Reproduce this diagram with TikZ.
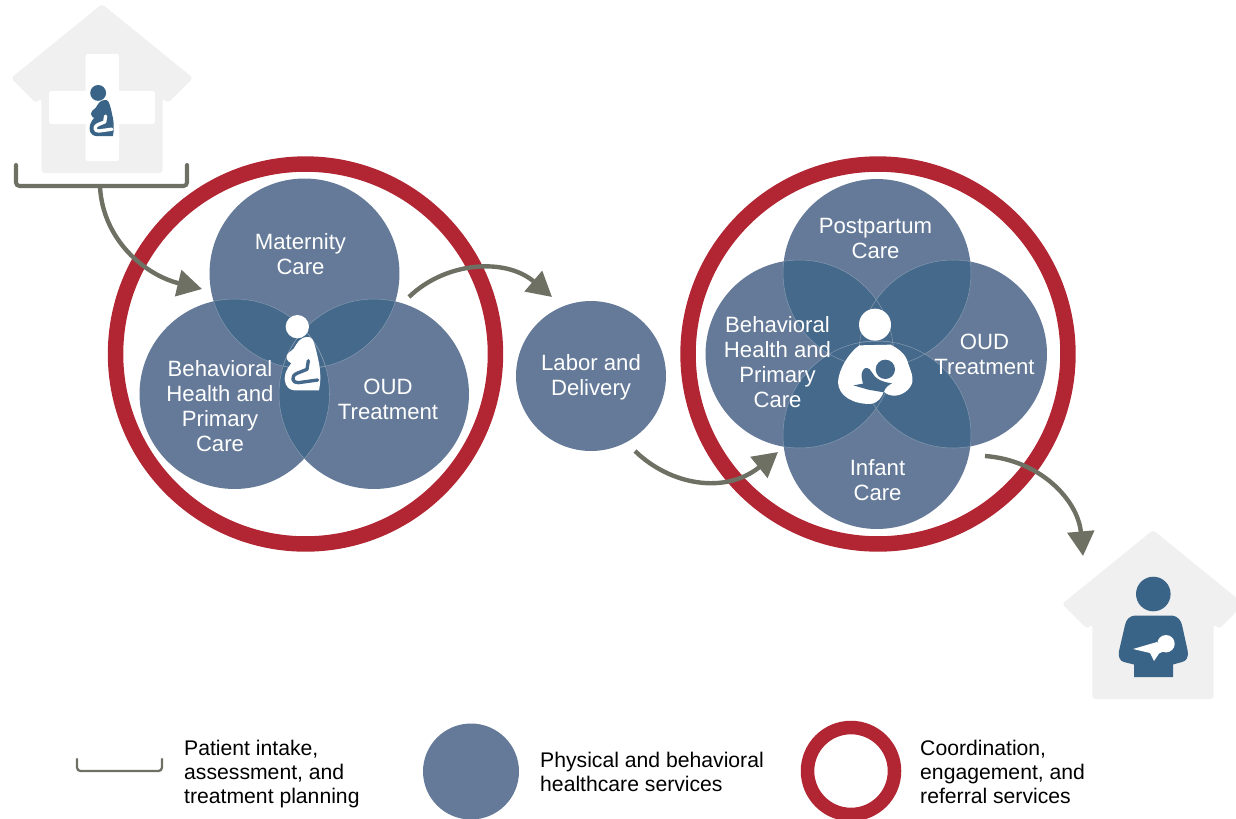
\documentclass[tikz,border=0pt]{standalone}
\usepackage{fontspec}
\setmainfont{Liberation Sans}
\usepackage{tikz}
\usetikzlibrary{arrows.meta}
\definecolor{svcblue}{HTML}{647A98}
\definecolor{lapblue}{HTML}{45698A}
\definecolor{figblue}{HTML}{3A6487}
\definecolor{lapedge}{HTML}{8398B0}
\definecolor{ringred}{HTML}{B22532}
\definecolor{flowgrey}{HTML}{6E7063}
\definecolor{housegrey}{HTML}{F0F0F0}

\tikzset{
  pics/pregnantfig/.style n args={2}{code={
    \begin{scope}[scale=1/3,shift={(-160,-270)}]
    \fill[#1] (143,80) circle[radius=35];
    \fill[#1] (172,111) .. controls (150,112) and (142,130) .. (132,146) .. controls (122,156) and (110,160) .. (111,172) .. controls (112,184) and (120,186) .. (125,190) .. controls (108,210) and (100,232) .. (108,252) .. controls (114,264) and (122,270) .. (135,271) -- (208,271) .. controls (212,250) and (214,230) .. (209,195) .. controls (204,170) and (196,130) .. (188,118) .. controls (184,112) and (178,110) .. (172,111) -- cycle;
    \draw[#2,line width=1.9pt,line join=round,line cap=round] (176,182) -- (172,208) -- (142,220) .. controls (122,228) and (128,250) .. (146,248) -- (204,240);
    \end{scope}
  }},
  pics/nursingfig/.style={code={
    \begin{scope}[scale=1/3,shift={(-165,-190)}]
    \fill[white] (165,90) circle[radius=48];
    \fill[white] (118,152) -- (212,150) .. controls (240,165) and (258,180) .. (264,205) .. controls (272,228) and (280,245) .. (277,262) .. controls (272,285) and (245,305) .. (218,303) .. controls (198,301) and (188,288) .. (192,290) .. controls (185,305) and (178,325) .. (150,328) .. controls (100,328) and (55,305) .. (54,262) .. controls (56,225) and (85,175) .. (118,152) -- cycle;
    \fill[lapblue] (196,224) circle[radius=29];
    \fill[lapblue] (100,272) -- (129,267) .. controls (126,255) and (122,240) .. (128,228) .. controls (134,215) and (148,218) .. (155,232) .. controls (165,252) and (185,262) .. (216,266) .. controls (204,272) and (196,278) .. (191,293) -- (145,285) -- cycle;
    \end{scope}
  }},
  pics/housefig/.style={code={
    \fill[housegrey,rounded corners=1.8pt] (0,-2) -- (91,72) -- (66,97) -- (60.7,92) -- (60.7,167) -- (-60.7,167) -- (-60.7,92) -- (-66,97) -- (-91,72) -- cycle;
  }}
}

\begin{document}
\begin{tikzpicture}[x=0.02cm,y=-0.02cm,
  svcnode/.style={circle,fill=svcblue,inner sep=0pt},
  svcbig/.style={svcnode,minimum size=3.8cm},
  svctext/.style={text=white,align=center,font=\fontsize{12.6}{14.2}\selectfont},
  keytext/.style={anchor=west,align=left,font=\fontsize{12.05}{13.7}\selectfont},
  ringnode/.style={circle,draw=ringred,line width=8.8pt,inner sep=0pt},
  flow/.style={draw=flowgrey,line width=2.5pt,-{Triangle[length=14pt,width=15pt]}},
  bracketline/.style={draw=flowgrey,rounded corners=2pt,line cap=round}]
\useasboundingbox (0,0) rectangle (1236,818);

% Intake house
\pic at (102,6) {housefig};
\fill[white,rounded corners=1pt] (85.5,54) rectangle (119,161);
\fill[white,rounded corners=1pt] (49,91) rectangle (155,124);
\pic at (102,136) [scale=0.68] {pregnantfig={figblue}{white}};
\draw[bracketline,line width=2.3pt] (16,165) -- (16,186) -- (187,186) -- (187,165);

% Prenatal circles
\node[ringnode,minimum size=7.6cm] (prering) at (305.5,354) {};
\node[svcbig] (prematernity) at (304.5,273.5) {};
\node[svcbig] (prebehavioral) at (234.5,394) {};
\node[svcbig] (preoud) at (374,394) {};
\foreach \a/\b in {prematernity/prebehavioral,prematernity/preoud,prebehavioral/preoud} {
  \begin{scope}
  \clip (\a) circle[radius=95];
  \fill[lapblue] (\b) circle[radius=95];
  \end{scope}
}
\foreach \a/\b in {prematernity/prebehavioral,prebehavioral/prematernity,prematernity/preoud,preoud/prematernity,prebehavioral/preoud,preoud/prebehavioral} {
  \begin{scope}
  \clip (\a) circle[radius=95];
  \draw[lapedge,line width=0.3pt] (\b) circle[radius=95];
  \end{scope}
}
\node[svctext] (prematernitytext) at (300.5,254) {Maternity\\Care};
\node[svctext] (prebehavioraltext) at (220,406.5) {Behavioral\\Health and\\Primary\\Care};
\node[svctext] (preoudtext) at (388,399) {OUD\\Treatment};
\pic at (303,390) {pregnantfig={white}{lapblue}};

% Labor and delivery
\node[svcnode,minimum size=3cm] (labor) at (591,376) {};
\node[svctext] (labortext) at (591,377) {Labor and\\Delivery};

% Postpartum circles
\node[ringnode,minimum size=7.6cm] (postring) at (878,354) {};
\node[svcbig,minimum size=3.76cm] (postcare) at (877,273) {};
\node[svcbig,minimum size=3.76cm] (postbehavioral) at (799.5,354) {};
\node[svcbig,minimum size=3.76cm] (postoud) at (953,354) {};
\node[svcbig,minimum size=3.76cm] (postinfant) at (877,435) {};
\foreach \a/\b in {postcare/postbehavioral,postcare/postoud,postinfant/postbehavioral,postinfant/postoud,postcare/postinfant,postbehavioral/postoud} {
  \begin{scope}
  \clip (\a) circle[radius=94];
  \fill[lapblue] (\b) circle[radius=94];
  \end{scope}
}
\foreach \a/\b in {postcare/postbehavioral,postbehavioral/postcare,postcare/postoud,postoud/postcare,postinfant/postbehavioral,postbehavioral/postinfant,postinfant/postoud,postoud/postinfant} {
  \begin{scope}
  \clip (\a) circle[radius=94];
  \draw[lapedge,line width=0.3pt] (\b) circle[radius=94];
  \end{scope}
}
\node[svctext] (postcaretext) at (875.5,238.5) {Postpartum\\Care};
\node[svctext] (postbehavioraltext) at (777.5,362) {Behavioral\\Health and\\Primary\\Care};
\node[svctext] (postoudtext) at (984.5,354) {OUD\\Treatment};
\node[svctext] (postinfanttext) at (877.5,480.5) {Infant\\Care};
\pic at (875,358) {nursingfig};

% Home house
\pic at (1153,532) {housefig};
\fill[figblue] (1153.3,594) circle[radius=17.3];
\fill[figblue] (1135,615.5) -- (1172,615.5) .. controls (1178,616) and (1181,621) .. (1182,625) -- (1187.5,650) .. controls (1189,658) and (1186,661) .. (1182,662) -- (1173,664.5) -- (1173,677) -- (1134,677) -- (1134,664.5) -- (1124,662) .. controls (1120,661) and (1118,657) .. (1119,651) -- (1125,625) .. controls (1126,620) and (1129,616) .. (1135,615.5) -- cycle;
\fill[white] (1166,643.7) circle[radius=8.7];
\fill[white] (1133,649) -- (1157,642) -- (1164,651) -- (1159,653.5) -- (1154,661) -- (1150,653) -- cycle;

% Flow arrows
\coordinate (intakeout) at (100,187);
\coordinate (prein) at (202,289);
\coordinate (preout) at (409,297);
\coordinate (laborin) at (552,297);
\coordinate (laborout) at (635,451);
\coordinate (postin) at (778,452);
\coordinate (postout) at (985,456);
\coordinate (homein) at (1083,556);
\draw[flow] (intakeout) .. controls (103,240) and (145,275) .. (prein);
\draw[flow] (preout) .. controls (445,262) and (505,257) .. (laborin);
\draw[flow] (laborout) .. controls (670,485) and (725,495) .. (postin);
\draw[flow] (postout) .. controls (1040,460) and (1078,500) .. (homein);

% Key
\draw[bracketline,line width=1.3pt] (77,759) -- (77,771) -- (162,771) -- (162,759);
\node[keytext] (keyintake) at (178,774) {Patient intake,\\assessment, and\\treatment planning};
\node[svcnode,minimum size=1.92cm] (keyservice) at (471,771.5) {};
\node[keytext] (keyservicetext) at (534,772) {Physical and behavioral\\healthcare services};
\node[circle,draw=ringred,line width=7.7pt,inner sep=0pt,minimum size=1.74cm] (keyring) at (851,771) {};
\node[keytext] (keyringtext) at (914,772) {Coordination,\\engagement, and\\referral services};
\end{tikzpicture}
\end{document}
